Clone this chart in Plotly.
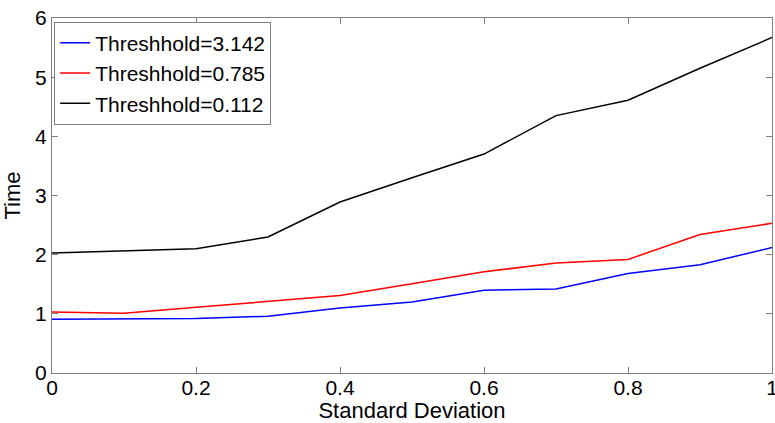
import plotly.graph_objects as go

x_vals = [0, 0.1, 0.2, 0.3, 0.4, 0.5, 0.6, 0.7, 0.8, 0.9, 1.0]
t_3142 = [0.91, 0.91, 0.92, 0.96, 1.10, 1.20, 1.40, 1.42, 1.68, 1.83, 2.12]
t_0785 = [1.03, 1.01, 1.11, 1.21, 1.31, 1.51, 1.71, 1.86, 1.92, 2.34, 2.53]
t_0112 = [2.03, 2.07, 2.10, 2.30, 2.89, 3.30, 3.70, 4.35, 4.61, 5.15, 5.67]
series_names = ["Threshhold=3.142", "Threshhold=0.785", "Threshhold=0.112"]
series_colors = ["#0000ff", "#ff0000", "#000000"]
x_ticks = [0, 0.2, 0.4, 0.6, 0.8, 1]
x_tick_text = ["0", "0.2", "0.4", "0.6", "0.8", "1"]
y_ticks = [0, 1, 2, 3, 4, 5, 6]

FONT = "Liberation Sans, Arial"
fig = go.Figure()
for name, ys, col in zip(series_names, [t_3142, t_0785, t_0112], series_colors):
    fig.add_trace(go.Scatter(x=x_vals, y=ys, mode="lines", name=name,
                             line=dict(color=col, width=1.5)))

axis_common = dict(showline=True, linecolor="#808080", linewidth=1, mirror="ticks",
                   ticks="inside", ticklen=6, tickcolor="#808080", showgrid=False,
                   zeroline=False, ticklabeloverflow="allow", automargin=False,
                   tickfont=dict(family=FONT, size=21, color="#000"))
fig.update_xaxes(range=[0, 1], tickvals=x_ticks, ticktext=x_tick_text,
                 ticklabelstandoff=-4,
                 title=dict(text="Standard Deviation", standoff=0,
                            font=dict(family=FONT, size=22, color="#000")),
                 **axis_common)
fig.update_yaxes(range=[0, 6], tickvals=y_ticks,
                 title=dict(text="Time", standoff=10,
                            font=dict(family=FONT, size=22, color="#000")),
                 **axis_common)
fig.update_layout(
    width=775, height=423,
    margin=dict(l=52, r=3, t=18, b=50),
    plot_bgcolor="white", paper_bgcolor="white",
    legend=dict(x=0.003, y=0.99, xanchor="left", yanchor="top",
                bgcolor="white", bordercolor="#808080", borderwidth=1,
                font=dict(family=FONT, size=21, color="#000"),
                itemwidth=30, tracegroupgap=0),
)
fig.write_html("out.html")
